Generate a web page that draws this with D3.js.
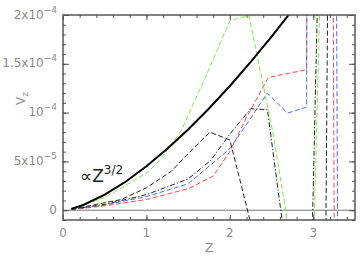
<!DOCTYPE html>
<html><head><meta charset="utf-8">
<script src="https://cdn.jsdelivr.net/npm/d3@7"></script>
<style>body{margin:0;background:#fff}svg{display:block}</style>
</head><body><svg id="c" width="360" height="257"></svg>
<script>
// values in units of 1e-5
const blackZ = [0.1, 0.25, 0.5, 0.75, 1.0, 1.25, 1.5, 1.75, 2.0, 2.25, 2.5, 2.75];
const blackV = [0.14, 0.56, 1.59, 2.92, 4.5, 6.29, 8.27, 10.42, 12.73, 15.19, 17.79, 20.5];
const greenZ = [0.1, 0.5, 1.0, 1.16, 1.42, 1.7, 2.0, 2.11, 2.23, 2.51, 2.67, 2.72, 3.0, 3.09];
const greenV = [0.1, 1.3, 3.8, 5.1, 8.2, 13.5, 19.4, 19.7, 19.9, 8.2, 0, -5, -5, 25];
const redZ = [0.1, 0.5, 1.0, 1.5, 1.8, 2.0, 2.2, 2.46, 2.92, 2.925, 3.23, 3.26];
const redV = [0.05, 0.45, 1.1, 2.2, 3.5, 6.0, 9.5, 13.6, 14.4, 40, 40, -20];
const blueZ = [0.1, 0.5, 1.0, 1.5, 2.0, 2.2, 2.45, 2.69, 2.92, 2.925, 3.27, 3.30];
const blueV = [0.08, 0.55, 1.4, 2.7, 6.3, 8.8, 12.0, 9.95, 10.56, 40, 40, -20];
const dashZ = [0.1, 0.4, 0.7, 1.0, 1.3, 1.5, 1.76, 2.0, 2.3, 3.15, 3.18];
const dashV = [0.1, 0.6, 1.1, 2.3, 4.0, 5.8, 8.0, 7.2, -3, -3, 30];
const dotZ = [0.1, 0.5, 1.0, 1.5, 1.77, 2.0, 2.25, 2.45, 2.61, 2.7, 2.98, 3.06];
const dotV = [0.1, 0.6, 1.6, 3.2, 5.1, 7.8, 10.4, 10.3, 0, -5, -5, 25];
const xTickLabels = ["0", "1", "2", "3"];
const yTickVals = [0, 5, 10, 15, 20];
const yTickMant = ["0", "5x10", "10", "1.5x10", "2x10"];
const yTickExp = ["", "\u22125", "\u22124", "\u22124", "\u22124"];

const svg = d3.select("#c");
const L = 63, R = 355, T = 15, B = 220;
const x = d3.scaleLinear().domain([0, 3.5]).range([L, R]);
const y = d3.scaleLinear().domain([-1, 20]).range([B, T]);
const axisCol = "#555", textCol = "#8c8c8c";

svg.append("rect").attr("width", 360).attr("height", 257).attr("fill", "#fff");
svg.append("defs").append("clipPath").attr("id", "clip")
  .append("rect").attr("x", L).attr("y", T).attr("width", R - L).attr("height", B - T);

// zero line
svg.append("line").attr("x1", L).attr("x2", R).attr("y1", y(0)).attr("y2", y(0))
  .attr("stroke", "#777").attr("stroke-width", 1);

const g = svg.append("g").attr("clip-path", "url(#clip)");
const line = d3.line().x(d => x(d[0])).y(d => y(d[1]));
function series(Z, V, color, width, dash) {
  g.append("path").datum(Z.map((z, i) => [z, V[i]]))
    .attr("d", line).attr("fill", "none").attr("stroke", color)
    .attr("stroke-width", width).attr("stroke-dasharray", dash);
}
series(redZ, redV, "#ff4a4a", 1, "5,2.5");
series(blueZ, blueV, "#4a6cff", 1, "5,2.5");
series(dashZ, dashV, "#222", 1, "5,2.5");
series(dotZ, dotV, "#222", 1, "5,2,1.2,2");
series(greenZ, greenV, "#7ee84a", 1, "5,2.5");
series(blackZ, blackV, "#000", 2, null);

// axes (ticks inside)
const xMinor = d3.range(0, 3.51, 0.2).map(v => +v.toFixed(2));
const yMinor = d3.range(-1, 20.01, 1);
function axes(sel, scale, orient, vals, len) {
  const ax = (orient === "bottom" ? d3.axisBottom : orient === "top" ? d3.axisTop :
    orient === "left" ? d3.axisLeft : d3.axisRight)(scale)
    .tickValues(vals).tickSize(-len).tickFormat("").tickSizeOuter(0);
  sel.call(ax);
  sel.select(".domain").remove();
  sel.selectAll("line").attr("stroke", axisCol);
}
axes(svg.append("g").attr("transform", `translate(0,${B})`), x, "bottom", xMinor, 3);
axes(svg.append("g").attr("transform", `translate(0,${B})`), x, "bottom", [0,1,2,3], 5);
axes(svg.append("g").attr("transform", `translate(0,${T})`), x, "top", xMinor, 3);
axes(svg.append("g").attr("transform", `translate(0,${T})`), x, "top", [0,1,2,3], 5);
axes(svg.append("g").attr("transform", `translate(${L},0)`), y, "left", yMinor, 3);
axes(svg.append("g").attr("transform", `translate(${L},0)`), y, "left", yTickVals, 6);
axes(svg.append("g").attr("transform", `translate(${R},0)`), y, "right", yMinor, 3);
axes(svg.append("g").attr("transform", `translate(${R},0)`), y, "right", yTickVals, 6);

svg.append("rect").attr("x", L).attr("y", T).attr("width", R - L).attr("height", B - T)
  .attr("fill", "none").attr("stroke", axisCol).attr("stroke-width", 1.5);

const font = "'DejaVu Sans', sans-serif";
// x tick labels
svg.selectAll(".xl").data(xTickLabels).enter().append("text")
  .attr("x", (d, i) => x(i)).attr("y", 237).attr("text-anchor", "middle")
  .attr("font-family", font).attr("font-size", 12).attr("fill", textCol).text(d => d);
// y tick labels
yTickVals.forEach((v, i) => {
  const t = svg.append("text").attr("x", 57).attr("y", y(v) + 3.5).attr("text-anchor", "end")
    .attr("font-family", font).attr("font-size", 12).attr("fill", textCol);
  t.append("tspan").text(yTickMant[i]);
  if (yTickExp[i]) t.append("tspan").attr("dy", -6).attr("font-size", 9).text(yTickExp[i]);
});
// axis titles
svg.append("text").attr("x", 209).attr("y", 252).attr("text-anchor", "middle")
  .attr("font-family", font).attr("font-size", 12).attr("fill", textCol).text("Z");
const yt = svg.append("text").attr("transform", "translate(25,105) rotate(-90)")
  .attr("font-family", font).attr("font-size", 12).attr("fill", textCol);
yt.append("tspan").text("V");
yt.append("tspan").attr("dy", 3).attr("font-size", 9).text("z");
// annotation
const an = svg.append("text").attr("x", 80).attr("y", 182)
  .attr("font-family", font).attr("font-size", 17).attr("fill", "#222");
an.append("tspan").text("\u221DZ");
an.append("tspan").attr("dy", -8).attr("font-size", 12).text("3/2");
</script></body></html>
